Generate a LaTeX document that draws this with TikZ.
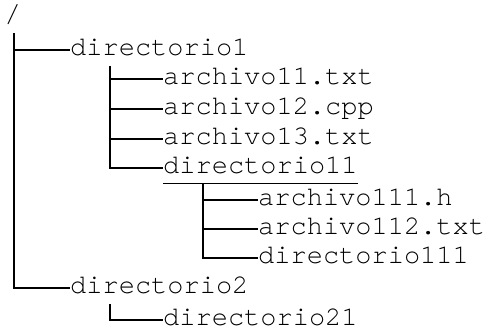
\documentclass[tikz,border=0pt]{standalone}
\usepackage{fontspec}
\newfontfamily\treefont{TeX Gyre Cursor}
\tikzset{
    every node/.append style={
        font=\treefont\fontsize{27}{30}\selectfont
    },
    entry/.style={
        anchor=west,
        inner sep=0pt,
        text height=21.9pt,
        text depth=10.3pt
    },
    branch/.style={
        draw,
        line width=2pt
    },
    underlined/.style={
        draw,
        line width=1pt
    }
}

\begin{document}
\begin{tikzpicture}[x=1pt, y=-1pt]
                \useasboundingbox (0,0) rectangle (486,331);
                \node[entry] (root) at (4.5,17) {/};
                \node[entry] (dir1) at (70,50) {directorio1};
                \node[entry] (a11) at (163,79) {archivo11.txt};
                \node[entry] (a12) at (163,109) {archivo12.cpp};
                \node[entry] (a13) at (163,139) {archivo13.txt};
                \node[entry] (dir11) at (163,168) {directorio11};
                \node[entry] (a111) at (258,200) {archivo111.h};
                \node[entry] (a112) at (258,229) {archivo112.txt};
                \node[entry] (dir111) at (258,258) {directorio111};
                \node[entry] (dir2) at (70,288) {directorio2};
                \node[entry] (dir21) at (163,320) {directorio21};
                \draw[branch] ([xshift=1.5pt]root.south) |- (dir1.west);
                \draw[branch] ([xshift=1.5pt]root.south) |- (dir2.west);
                \draw[branch] ([xshift=39.5pt]dir1.south west) |- (a11.west);
                \draw[branch] ([xshift=39.5pt]dir1.south west) |- (a12.west);
                \draw[branch] ([xshift=39.5pt]dir1.south west) |- (a13.west);
                \draw[branch] ([xshift=39.5pt]dir1.south west) |- (dir11.west);
                \draw[underlined] ([yshift=1pt]dir11.south west) -- ([yshift=1pt]dir11.south east);
                \draw[branch] ([xshift=39.5pt]dir11.south west) |- (a111.west);
                \draw[branch] ([xshift=39.5pt]dir11.south west) |- (a112.west);
                \draw[branch] ([xshift=39.5pt]dir11.south west) |- (dir111.west);
                \draw[branch] ([xshift=39.5pt]dir2.south west) |- (dir21.west);
            \end{tikzpicture}
\end{document}
